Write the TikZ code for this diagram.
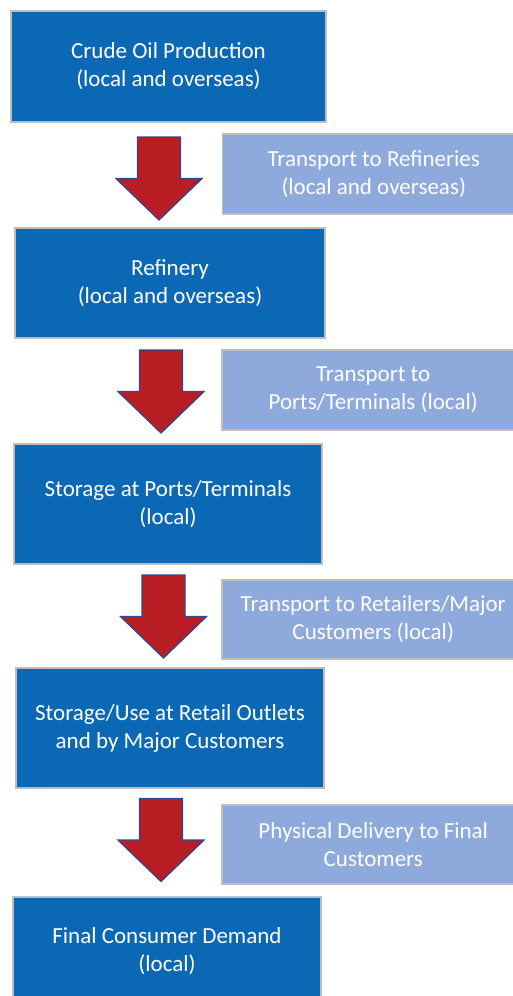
\documentclass[tikz,border=0pt]{standalone}
\usepackage{fontspec}
\setmainfont{Carlito}
\definecolor{stageblue}{RGB}{11,104,180}
\definecolor{stepblue}{RGB}{142,169,219}
\definecolor{edgegray}{RGB}{190,190,190}
\definecolor{arrowred}{RGB}{185,29,36}
\definecolor{arrowedge}{RGB}{50,70,140}
\tikzset{
  stage/.style={draw=edgegray, line width=1.5pt, fill=stageblue, text=white,
    align=center, inner sep=0pt, font=\fontsize{23}{28}\selectfont},
  transfer/.style={draw=edgegray, line width=1.5pt, fill=stepblue, text=white,
    align=center, inner sep=0pt, font=\fontsize{23}{28}\selectfont,
    anchor=west, minimum width=303pt},
  flowarrow/.pic={
    \draw[fill=arrowred, draw=arrowedge, line width=1.3pt, line join=miter]
      (-21.5,0) -- (21.5,0) -- (21.5,41.5) -- (43,41.5) -- (0,83)
      -- (-43,41.5) -- (-21.5,41.5) -- cycle;
  }
}
\begin{document}
\begin{tikzpicture}[x=1pt, y=-1pt]
  \useasboundingbox (0,0) rectangle (513,996);
  \clip (0,0) rectangle (513,996);

  % main supply-chain stages
  \node[stage, minimum width=315pt, minimum height=111pt] (crude) at (168.5,66.5)
    {Crude Oil Production\\(local and overseas)};
  \node[stage, minimum width=310pt, minimum height=110pt] (refinery) at (170,283)
    {Refinery\\(local and overseas)};
  \node[stage, minimum width=308pt, minimum height=120pt] (ports) at (168,504)
    {Storage at Ports/Terminals\\(local)};
  \node[stage, minimum width=308pt, minimum height=120pt] (retail) at (170,728)
    {Storage/Use at Retail Outlets\\and by Major Customers};
  \node[stage, minimum width=308pt, minimum height=108pt] (demand) at (167,951)
    {Final Consumer Demand\\(local)};

  % transport steps between the stages
  \node[transfer, minimum height=80pt] (trefine) at (221.5,174)
    {Transport to Refineries\\(local and overseas)};
  \node[transfer, minimum height=80pt] (tports) at (221,390)
    {Transport to\\Ports/Terminals (local)};
  \node[transfer, minimum height=79pt] (tretail) at (221,619.5)
    {Transport to Retailers/Major\\Customers (local)};
  \node[transfer, minimum height=79pt] (tdeliver) at (221,844.5)
    {Physical Delivery to Final\\Customers};

  % block arrows from each stage to the next
  \pic at (159,137) {flowarrow};
  \pic at (161,350) {flowarrow};
  \pic at (163.5,575) {flowarrow};
  \pic at (161,798.5) {flowarrow};
\end{tikzpicture}
\end{document}
